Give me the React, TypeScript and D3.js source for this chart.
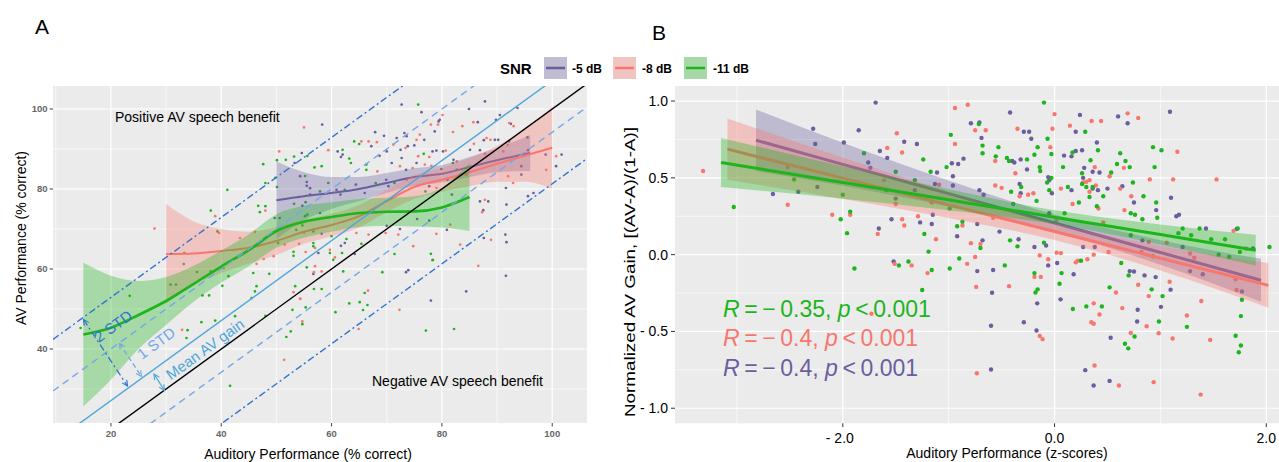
import React from "react";
import * as d3 from "d3";

// ---------------- DATA ----------------
const snrLevels = ["-5 dB", "-8 dB", "-11 dB"];
const snrColors = ["#6a5e9e", "#f8766d", "#1cb51c"];

// Panel A ticks
const aXTicks = [20, 40, 60, 80, 100];
const aXMinor = [10, 30, 50, 70, 90];
const aYTicks = [40, 60, 80, 100];
const aYMinor = [30, 50, 70, 90];

// Panel A reference lines: AV = A + offset
const meanGain = 7.1;
const stdGain = 12.9;

// Panel A points [auditory %, AV %]
const aPurple: [number, number][] = [
  [53.3, 86.5], [55.5, 81.75], [56.1, 80.2], [54.0, 78.0], [49.7, 72.75], [50.6, 72.75], [57.6, 64.0],
  [72.7, 101.1], [76.3, 99.2], [87.8, 101.9], [84.9, 100], [93.7, 100.25], [79.6, 97.3], [79.4, 96.9],
  [90.5, 98.5], [89.8, 97.3], [92.5, 96.3], [58.3, 96.1], [67.9, 94.2], [86.5, 96.7], [78.7, 94.4],
  [73.2, 94], [73.6, 93.2], [71.8, 92.75], [76.8, 92.3], [73.8, 90.7], [75.0, 90.9], [69.5, 93.3],
  [67.2, 90.7], [70.0, 89.4], [72.5, 89.8], [62.0, 88.6], [61.7, 88], [61.1, 89.4], [70.9, 86.5],
  [73.5, 84.8], [75.4, 86.5], [78.3, 89.4], [79.0, 89.6], [87.6, 92.2], [89.6, 92.3], [90.2, 92.3],
  [86.9, 89.7], [95.6, 89.7], [101.7, 88.6], [100.7, 85.7], [55.5, 80.8], [61.6, 78.6], [70.3, 80.7],
  [77.7, 80.7], [81.0, 82.3], [81.8, 78.6], [86.9, 76.9], [88.4, 76.9], [87.5, 74.7], [91.6, 80.25],
  [91.7, 76.1], [95.6, 78.2], [96.6, 79], [91.5, 68.6], [91.7, 66.7], [91.6, 58.3], [61.7, 65.8],
  [73.9, 59.7], [75.5, 72.5], [77.7, 72.1], [56.7, 58.75], [56.1, 78.6], [54.3, 83.2], [60.9, 79.8],
  [64.4, 81.1], [66.0, 79], [69.9, 82.3], [54.7, 75.8], [58.2, 68.8], [57.9, 74], [62.4, 66.5],
  [64.2, 63.75], [70.0, 70.8], [72.4, 70], [73.5, 59.2], [80.9, 69.8], [87.6, 67.75], [79.9, 85],
  [94.4, 85.7], [94.4, 83.6], [95.5, 92.9], [92.2, 91.9], [85.1, 89.8], [82.1, 87.3], [80.2, 89.4],
  [98.8, 88.6], [68.7, 88.3], [72.7, 87.75], [54.6, 89], [78.0, 52.1], [84.4, 54.4],
];
const aRed: [number, number][] = [
  [27.9, 70.1], [55.0, 95.4], [50.5, 89.4], [48.0, 74.6], [38.9, 73.2], [39.6, 69.0], [43.4, 67.75],
  [46.1, 69.3], [51.5, 66.1], [54.1, 66.3], [55.3, 64.25], [47.7, 62.5], [46.4, 61.3], [49.5, 63.2],
  [57.0, 60.7], [56.8, 59.2], [32.9, 44.8], [53.1, 54.2], [54.3, 52.6], [54.7, 46.9], [51.4, 37.3],
  [80.1, 98.5], [79.3, 96.1], [82.0, 94.25], [83.7, 95.7], [85.7, 96.7], [78.0, 96.1], [71.2, 91.1],
  [75.4, 92.3], [68.2, 91.7], [65.4, 91.9], [66.7, 91.9], [73.4, 90.25], [59.4, 89.7], [68.3, 84.4],
  [72.4, 85.7], [74.7, 85.25], [75.7, 88.2], [76.9, 86.1], [77.7, 88], [80.7, 89.6], [85.8, 91.3],
  [88.1, 92.75], [88.8, 92.3], [92.2, 96.5], [93.0, 95.7], [100.7, 88.2], [98.9, 84.8], [84.4, 83.6],
  [82.7, 86.9], [87.8, 77.3], [86.6, 60.8], [87.3, 74.2], [64.5, 69], [66.7, 68.6], [60.6, 62.9],
  [69.8, 69], [74.8, 65.7], [72.1, 68.6], [79.0, 68.8], [83.3, 66.1], [73.6, 82.3], [55.0, 69],
  [57.0, 65.25], [59.7, 64.8], [58.2, 59.4], [81.5, 71.1], [88.9, 67.3], [78.4, 62.3], [79.0, 80.25],
  [83.4, 83.6], [92.0, 83.2], [92.9, 81.5], [91.9, 91.1], [87.8, 88.8], [78.1, 85.8], [91.1, 89.4],
  [76.0, 93.6], [54.3, 52.5], [66.6, 54.6], [72.3, 49.8], [64.9, 45],
];
const aGreen: [number, number][] = [
  [47.6, 86.2], [50.1, 87.2], [51.7, 87.3], [53.2, 88.1], [55.6, 88.25], [56.9, 85.4], [49.8, 82.8],
  [48.0, 81.5], [50.1, 80.5], [55.2, 83.25], [41.1, 79.8], [46.7, 75.8], [47.0, 74.2], [48.0, 75.7],
  [38.1, 74.6], [39.3, 69.4], [53.2, 76.3], [55.3, 76.7], [55.2, 73.2], [54.7, 70.9], [53.6, 69.8],
  [56.7, 69.4], [50.3, 66.5], [53.1, 64.3], [53.1, 63.3], [56.7, 66.5], [33.3, 64.0], [33.2, 61.25],
  [35.6, 59.25], [38.1, 59.4], [55.5, 60.4], [45.8, 59.0], [48.7, 58.8], [40.4, 60.25], [41.3, 58.2],
  [14.5, 45.25], [23.4, 53.3], [30.8, 56.1], [31.8, 56.1], [36.6, 53.4], [37.8, 53.4], [36.4, 46.7],
  [38.9, 47.1], [33.9, 44.7], [33.7, 42.75], [40.2, 55.8], [42.5, 48.2], [41.6, 30.8], [45.5, 52.75],
  [46.4, 55.7], [46.1, 54.4], [48.0, 48.3], [51.8, 43.0], [52.9, 49.8], [53.4, 55.7], [54.7, 46.2],
  [55.3, 50.4], [52.6, 44.4], [56.8, 55.0], [75.7, 101.1], [64.1, 91.9], [65.0, 91.25], [62.0, 89.8],
  [63.2, 87.6], [63.5, 86.5], [58.2, 85.7], [66.3, 86.1], [66.3, 84.8], [76.7, 88.8], [57.9, 79.4],
  [62.4, 79.8], [68.0, 81.5], [77.0, 79.4], [59.7, 64], [65.4, 66.3], [62.7, 67.5], [62.1, 59.4],
  [71.4, 63.75], [69.2, 59.2], [78.0, 63.8], [78.3, 62.2], [59.4, 81.5], [71.4, 81.5], [55.6, 73.6],
  [56.7, 65.7], [60.0, 68.2], [60.3, 62.3], [61.9, 64], [82.0, 86.5], [82.7, 84.8], [58.2, 55.0],
  [60.7, 49.2], [63.2, 51.4], [65.1, 51.7], [66.0, 54.0], [66.5, 51], [65.7, 49.75], [77.1, 44.6],
  [82.2, 45],
];

// Panel A loess fits (x, fit, half-width of band)
const aPurpleFitX = [50, 55, 60, 65, 70, 75, 80, 85, 90, 96];
const aPurpleFit = [77.2, 78.2, 79, 80, 81.5, 83, 83.8, 85.5, 87.2, 89];
const aPurpleHW = [9.7, 6, 4, 3, 2.5, 2.2, 2.2, 2.5, 3, 4.5];
const aRedFitX = [30, 35, 40, 45, 50, 55, 60, 65, 70, 75, 80, 85, 90, 95, 100];
const aRedFit = [63.75, 63.9, 64.5, 65.3, 67, 69.3, 71, 73.2, 77, 80.5, 82.3, 84.2, 86.3, 88.3, 90.3];
const aRedHW = [12.5, 8, 5.5, 4, 3.5, 3, 2.8, 2.8, 2.8, 3, 3, 3.5, 4.5, 6.5, 10.3];
const aGreenFitX = [15, 20, 25, 30, 35, 40, 45, 50, 55, 60, 65, 70, 75, 80, 85];
const aGreenFit = [43.6, 45.3, 48.5, 52, 56.3, 60.6, 64.7, 69.5, 71.8, 73, 74, 74.3, 74.4, 75.4, 78];
const aGreenHW = [18, 13, 8.5, 6, 4.5, 4, 4, 4.2, 4, 3.7, 3.5, 3.5, 3.8, 5, 8.5];

// Panel B ticks
const bXTicks = [-2, 0, 2];
const bXTickLabels = ["- 2.0", "0.0", "2.0"];
const bXMinor = [-3, -1, 1];
const bYTicks = [1, 0.5, 0, -0.5, -1];
const bYTickLabels = ["1.0", "0.5", "0.0", "- 0.5", "- 1.0"];
const bYMinor = [0.75, 0.25, -0.25, -0.75];

// Panel B points [auditory z, normalized AV gain]
const bRed: [number, number][] = [
  [-3.32, 0.545], [-2.52, 0.325], [-2.52, 0.57], [-2.10, 0.26], [-1.93, 0.26], [-1.58, 0.695], [-1.49, 0.79],
  [-1.44, 0.665], [-1.09, 0.455], [-1.67, 0.135], [-1.44, 0.23], [-1.42, 0.19], [-1.29, 0.25], [-1.12, 0.10],
  [-1.20, -0.12], [-1.51, -0.06], [-1.35, -0.07], [-0.94, 0.955], [-0.94, 0.72], [-0.82, 0.976], [-0.75, 0.81],
  [-0.65, 0.81], [-0.56, 0.61], [-0.35, 0.82], [-0.37, 0.53], [0.0, 0.915], [-0.02, 0.82], [-0.04, 0.70],
  [-0.33, 0.38], [-0.25, 0.39], [-0.20, 0.40], [-0.56, 0.45], [-0.50, 0.435], [0.145, 0.84], [0.35, 0.87],
  [0.44, 0.87], [0.38, 0.57], [0.52, 0.51], [0.655, 0.565], [0.06, 0.43], [0.27, 0.47], [0.30, 0.475],
  [0.33, 0.485], [0.33, 0.41], [0.39, 0.45], [0.17, 0.33], [0.415, 0.30], [0.69, 0.92], [0.79, 0.89],
  [0.90, 0.49], [1.12, 0.49], [1.16, 0.67], [1.53, 0.49], [0.62, 0.43], [0.725, 0.38], [0.66, 0.29],
  [1.69, 0.155], [-0.87, 0.19], [-0.825, -0.06], [-0.75, -0.015], [-0.70, 0.07], [-0.79, 0.075],
  [-0.14, -0.005], [-0.06, -0.03], [0.06, 0.01], [0.02, 0.013], [-0.19, -0.145], [-0.13, -0.145],
  [0.22, -0.04], [0.20, -0.05], [0.31, -0.03], [0.37, 0.0], [0.51, 0.017], [0.82, 0.017], [0.89, 0.083],
  [1.28, 0.007], [1.32, -0.02], [1.71, -0.16], [-0.74, -0.21], [-0.43, -0.205], [0.37, -0.317],
  [0.425, -0.39], [0.347, -0.44], [0.37, -0.45], [-0.14, -0.529], [-0.113, -0.55], [0.64, -0.348],
  [0.58, -0.246], [0.79, -0.196], [0.89, -0.27], [0.87, -0.466], [0.72, -0.51], [0.983, -0.511],
  [1.115, -0.546], [1.087, -0.176], [1.25, -0.396], [1.386, -0.302], [1.47, -0.555], [0.378, -0.722],
  [0.608, -0.852], [0.936, -0.83], [1.38, -0.911], [-0.734, -0.772], [1.72, -0.23], [-1.73, -0.385],
  [-1.61, 0.485], [-1.50, 0.33], [-1.16, 0.34], [-0.58, 0.24], [0.016, 0.22], [0.46, 0.21], [1.06, 0.078],
  [1.81, 0.04],
];
const bGreen: [number, number][] = [
  [-3.03, 0.31], [-2.46, 0.49], [-2.02, 0.23], [-1.93, 0.28], [-1.96, 0.14], [-1.89, -0.09], [-2.00, 0.39],
  [-1.80, 0.66], [-1.24, 0.62], [-1.50, 0.54], [-1.17, 0.54], [-1.23, 0.135], [-1.19, 0.02], [-1.16, -0.10],
  [-0.99, -0.09], [-1.47, -0.07], [-1.38, -0.045], [-1.02, 0.57], [-0.98, 0.78], [-0.92, 0.185],
  [-0.90, -0.025], [-0.715, 0.85], [-0.68, 0.71], [-0.68, 0.66], [-0.555, 0.64], [-0.53, 0.70], [-0.45, 0.63],
  [-0.43, 0.61], [-0.26, 0.62], [-0.19, 0.65], [-0.16, 0.70], [-0.10, 0.99], [-0.066, 0.755], [-0.03, 0.655],
  [-0.14, 0.57], [-0.135, 0.545], [-0.03, 0.50], [-0.07, 0.47], [-0.315, 0.44], [-0.41, 0.41], [-0.17, 0.35],
  [-0.05, 0.42], [0.29, 0.80], [0.41, 0.68], [0.17, 0.665], [0.34, 0.615], [0.535, 0.535], [0.59, 0.59],
  [0.67, 0.61], [0.71, 0.57], [0.08, 0.57], [0.126, 0.44], [0.26, 0.53], [0.26, 0.46], [0.30, 0.44],
  [0.33, 0.375], [0.36, 0.44], [0.46, 0.38], [0.23, 0.34], [0.40, 0.315], [0.62, 0.66], [0.93, 0.70],
  [1.01, 0.68], [0.74, 0.47], [0.84, 0.38], [0.96, 0.34], [0.97, 0.24], [0.72, 0.27], [0.76, 0.26],
  [0.83, 0.23], [0.945, 0.57], [1.37, 0.17], [1.21, 0.17], [1.29, 0.126], [1.73, 0.17], [1.48, 0.10],
  [1.61, 0.10], [2.03, 0.05], [-0.87, 0.215], [-0.70, 0.043], [-0.47, -0.07], [-0.42, 0.093], [-0.35, 0.054],
  [-0.10, 0.078], [-0.19, -0.12], [0.066, -0.12], [0.25, -0.04], [0.63, -0.054], [0.70, -0.135],
  [0.93, -0.01], [1.55, 0.0], [1.65, -0.015], [1.75, 0.017], [-0.18, -0.246], [-0.16, -0.226],
  [0.173, -0.354], [0.30, -0.337], [0.447, -0.337], [0.52, -0.213], [0.917, -0.226], [1.02, -0.27],
  [0.986, -0.435], [0.756, -0.533], [0.665, -0.58], [0.696, -0.61], [1.25, -0.47], [1.71, -0.528],
  [1.76, -0.591], [1.74, -0.635], [1.76, -0.40], [1.77, -0.294], [0.047, -0.189], [-1.25, -0.23],
  [-1.59, 0.42], [-1.32, 0.485], [-0.99, 0.30], [-0.39, 0.33], [0.095, 0.27], [0.72, 0.126], [1.17, 0.14],
];
const bPurple: [number, number][] = [
  [-2.66, 0.395], [-2.42, 0.41], [-2.24, 0.44], [-2.28, 0.82], [-2.26, 0.72], [-1.99, 0.73], [-1.85, 0.81],
  [-1.76, 0.60], [-1.74, 0.565], [-1.69, 0.99], [-1.65, 0.675], [-1.58, 0.63], [-1.42, 0.735], [-1.30, 0.72],
  [-1.11, 0.535], [-1.13, 0.46], [-1.66, 0.17], [-1.54, 0.23], [-1.27, 0.21], [-1.16, 0.20], [-1.52, -0.045],
  [-0.97, 0.595], [-0.96, 0.51], [-0.96, 0.45], [-0.92, 0.12], [-0.91, 0.59], [-0.79, 0.855], [-0.71, 0.86],
  [-0.69, 0.76], [-0.86, 0.625], [-0.40, 0.61], [-0.38, 0.60], [-0.42, 0.925], [-0.29, 0.80], [-0.24, 0.80],
  [-0.22, 0.755], [-0.32, 0.62], [-0.06, 0.505], [-0.05, 0.485], [-0.26, 0.555], [-0.33, 0.46], [-0.32, 0.40],
  [-0.71, 0.42], [-0.67, 0.39], [-0.025, 0.40], [0.24, 0.91], [0.20, 0.80], [0.40, 0.73], [0.09, 0.645],
  [0.16, 0.64], [0.20, 0.675], [0.26, 0.68], [0.28, 0.565], [0.36, 0.54], [0.425, 0.535], [0.16, 0.42],
  [0.27, 0.50], [0.36, 0.43], [0.41, 0.42], [0.50, 0.43], [0.60, 0.90], [0.69, 0.855], [1.09, 0.93],
  [0.64, 0.445], [0.75, 0.34], [0.96, 0.29], [1.15, 0.25], [1.175, 0.26], [1.10, 0.37], [1.43, 0.17],
  [1.72, 0.167], [-0.73, 0.20], [-0.68, 0.093], [-0.52, 0.15], [-0.73, -0.107], [-0.58, -0.10],
  [-0.34, 0.10], [-0.19, 0.05], [-0.08, 0.06], [-0.06, -0.07], [0.025, -0.054], [0.18, -0.128],
  [0.38, 0.05], [0.71, -0.107], [0.75, -0.11], [0.85, -0.135], [0.955, -0.146], [1.21, 0.05],
  [1.28, -0.107], [1.40, -0.128], [-0.59, -0.248], [-0.164, -0.317], [0.057, -0.291], [-0.6, -0.463],
  [-0.29, -0.44], [-0.17, -0.494], [0.53, -0.541], [0.785, -0.359], [0.78, -0.435], [1.005, -0.34],
  [1.096, -0.228], [0.29, -0.752], [0.369, -0.852], [0.52, -0.822], [-0.60, -0.748], [1.77, -0.24],
  [-1.50, 0.365], [-1.32, 0.42], [-1.15, 0.26], [-0.05, 0.27], [0.27, 0.05], [0.83, 0.093], [1.875, 0.04],
];

// Panel B linear fits (x, fit, half-width of CI)
const bPurpleFitX = [-2.82, -2, -1, 0, 1, 1.95];
const bPurpleFit = [0.745, 0.588, 0.397, 0.206, 0.014, -0.167];
const bPurpleHW = [0.2, 0.14, 0.085, 0.055, 0.08, 0.14];
const bRedFitX = [-3.09, -2, -1, 0, 1, 2.02];
const bRedFit = [0.687, 0.498, 0.324, 0.151, -0.023, -0.2];
const bRedHW = [0.2, 0.135, 0.085, 0.055, 0.08, 0.145];
const bGreenFitX = [-3.15, -2, -1, 0, 1, 1.9];
const bGreenFit = [0.6, 0.47, 0.357, 0.244, 0.131, 0.029];
const bGreenHW = [0.16, 0.106, 0.068, 0.045, 0.066, 0.1];

// Correlation labels (green, red, purple order as drawn)
const corrLabels = [
  { r: "0.35", p: "0.001", color: 2 },
  { r: "0.4", p: "0.001", color: 1 },
  { r: "0.4", p: "0.001", color: 0 },
];

// ---------------- COMPONENT ----------------
const FONT = "'Liberation Sans', Arial, Helvetica, sans-serif";

export default function App() {
  const xA = d3.scaleLinear().domain([9.5, 106.3]).range([53, 587]);
  const yA = d3.scaleLinear().domain([21.5, 105.75]).range([423, 86]);
  const xB = d3.scaleLinear().domain([-3.585, 2.12]).range([675, 1279]);
  const yB = d3.scaleLinear().domain([-1.098, 1.098]).range([423.3, 86]);

  const aPts = [aPurple, aRed, aGreen];
  const bPts = [bPurple, bRed, bGreen];

  const aFits = [
    { x: aPurpleFitX, y: aPurpleFit, hw: aPurpleHW },
    { x: aRedFitX, y: aRedFit, hw: aRedHW },
    { x: aGreenFitX, y: aGreenFit, hw: aGreenHW },
  ];
  const bFits = [
    { x: bPurpleFitX, y: bPurpleFit, hw: bPurpleHW },
    { x: bRedFitX, y: bRedFit, hw: bRedHW },
    { x: bGreenFitX, y: bGreenFit, hw: bGreenHW },
  ];

  const areaA = d3
    .area<[number, number, number]>()
    .x((d) => xA(d[0]))
    .y0((d) => yA(d[1] - d[2]))
    .y1((d) => yA(d[1] + d[2]))
    .curve(d3.curveMonotoneX);
  const lineA = d3
    .line<[number, number, number]>()
    .x((d) => xA(d[0]))
    .y((d) => yA(d[1]))
    .curve(d3.curveMonotoneX);
  const areaB = d3
    .area<[number, number, number]>()
    .x((d) => xB(d[0]))
    .y0((d) => yB(d[1] - d[2]))
    .y1((d) => yB(d[1] + d[2]))
    .curve(d3.curveMonotoneX);
  const lineB = d3
    .line<[number, number, number]>()
    .x((d) => xB(d[0]))
    .y((d) => yB(d[1]))
    .curve(d3.curveMonotoneX);

  const zip = (f: { x: number[]; y: number[]; hw: number[] }) =>
    f.x.map((x, i) => [x, f.y[i], f.hw[i]] as [number, number, number]);

  const [ax0, ax1] = xA.domain();
  const refLine = (off: number) => ({
    x1: xA(ax0),
    y1: yA(ax0 + off),
    x2: xA(ax1),
    y2: yA(ax1 + off),
  });
  // screen angle of the 45° data lines (negative = rising to the right)
  const angle = (Math.atan2(yA(60) - yA(50), xA(60) - xA(50)) * 180) / Math.PI;

  const darkBlue = "#2f74d0";
  const midBlue = "#4ea6da";
  const lightBlue = "#73a7e8";

  const legendItems = [
    { x: 544, label: snrLevels[0], lx: 572 },
    { x: 613, label: snrLevels[1], lx: 642 },
    { x: 684, label: snrLevels[2], lx: 713 },
  ];

  return (
    <svg
      width={1279}
      height={462}
      style={{ position: "absolute", left: 0, top: 0, background: "#fff" }}
      fontFamily={FONT}
    >
      <defs>
        <clipPath id="clipA">
          <rect x={53} y={86} width={534} height={337} />
        </clipPath>
        <clipPath id="clipB">
          <rect x={675} y={86} width={604} height={337.3} />
        </clipPath>
        {[
          ["arDark", darkBlue],
          ["arLight", lightBlue],
          ["arMid", midBlue],
        ].map(([id, c]) => (
          <marker
            key={id}
            id={id}
            viewBox="0 0 10 10"
            refX={9}
            refY={5}
            markerWidth={7}
            markerHeight={7}
            markerUnits="userSpaceOnUse"
            orient="auto-start-reverse"
          >
            <path d="M1,1 L9,5 L1,9" fill="none" stroke={c} strokeWidth={1.6} />
          </marker>
        ))}
      </defs>

      {/* Panel labels */}
      <text x={35} y={34} fontSize={21} fill="#000">A</text>
      <text x={652} y={40} fontSize={21} fill="#000">B</text>

      {/* ===== Panel A ===== */}
      <rect x={53} y={86} width={534} height={337} fill="#ebebeb" />
      {aXMinor.map((v) => (
        <line key={"axm" + v} x1={xA(v)} x2={xA(v)} y1={86} y2={423} stroke="#fff" strokeWidth={0.6} />
      ))}
      {aYMinor.map((v) => (
        <line key={"aym" + v} x1={53} x2={587} y1={yA(v)} y2={yA(v)} stroke="#fff" strokeWidth={0.6} />
      ))}
      {aXTicks.map((v) => (
        <line key={"axM" + v} x1={xA(v)} x2={xA(v)} y1={86} y2={423} stroke="#fff" strokeWidth={1.2} />
      ))}
      {aYTicks.map((v) => (
        <line key={"ayM" + v} x1={53} x2={587} y1={yA(v)} y2={yA(v)} stroke="#fff" strokeWidth={1.2} />
      ))}

      <g clipPath="url(#clipA)">
        {aPts.map((pts, si) =>
          pts.map((d, i) => (
            <circle key={"ap" + si + "-" + i} cx={xA(d[0])} cy={yA(d[1])} r={1.35} fill={snrColors[si]} />
          ))
        )}
        {aFits.map((f, si) => (
          <g key={"af" + si}>
            <path d={areaA(zip(f)) || ""} fill={snrColors[si]} fillOpacity={0.33} />
            <path d={lineA(zip(f)) || ""} fill="none" stroke={snrColors[si]} strokeWidth={si === 2 ? 2.6 : 2} />
          </g>
        ))}
        <line {...refLine(0)} stroke="#000" strokeWidth={1.4} />
        <line {...refLine(meanGain)} stroke={midBlue} strokeWidth={1.4} />
        <line {...refLine(meanGain + stdGain)} stroke={lightBlue} strokeWidth={1.4} strokeDasharray="7,5" />
        <line {...refLine(meanGain - stdGain)} stroke={lightBlue} strokeWidth={1.4} strokeDasharray="7,5" />
        <line {...refLine(meanGain + 2 * stdGain)} stroke={darkBlue} strokeWidth={1.4} strokeDasharray="7,3,2,3" />
        <line {...refLine(meanGain - 2 * stdGain)} stroke={darkBlue} strokeWidth={1.4} strokeDasharray="7,3,2,3" />

        <line x1={83.5} y1={319.5} x2={127.5} y2={386} stroke={darkBlue} strokeWidth={1.3}
          strokeDasharray="7,3,2,3" markerStart="url(#arDark)" markerEnd="url(#arDark)" />
        <line x1={119.5} y1={343.5} x2={141.5} y2={376.5} stroke={lightBlue} strokeWidth={1.3}
          strokeDasharray="5,3" markerStart="url(#arLight)" markerEnd="url(#arLight)" />
        <line x1={154} y1={374} x2={164.5} y2={390.5} stroke={midBlue} strokeWidth={1.3}
          markerStart="url(#arMid)" markerEnd="url(#arMid)" />

        <text x={113} y={326} fontSize={15} fill={darkBlue} textAnchor="middle" dominantBaseline="central"
          transform={`rotate(${angle} 113 326)`}>2 STD</text>
        <text x={156} y={343} fontSize={15} fill={lightBlue} textAnchor="middle" dominantBaseline="central"
          transform={`rotate(${angle} 156 343)`}>1 STD</text>
        <text x={205} y={349} fontSize={15} fill={midBlue} textAnchor="middle" dominantBaseline="central"
          transform={`rotate(${angle} 205 349)`}>Mean AV gain</text>
      </g>

      <text x={115} y={122} fontSize={14} fill="#000">Positive AV speech benefit</text>
      <text x={372} y={386} fontSize={14} fill="#000">Negative AV speech benefit</text>

      {aXTicks.map((v) => (
        <g key={"axt" + v}>
          <line x1={xA(v)} x2={xA(v)} y1={423} y2={426.5} stroke="#444" strokeWidth={1} />
          <text x={xA(v)} y={437} fontSize={9.5} fontWeight="bold" fill="#666" textAnchor="middle">{v}</text>
        </g>
      ))}
      {aYTicks.map((v) => (
        <g key={"ayt" + v}>
          <line x1={49.5} x2={53} y1={yA(v)} y2={yA(v)} stroke="#444" strokeWidth={1} />
          <text x={47.5} y={yA(v) + 3.3} fontSize={9.5} fontWeight="bold" fill="#666" textAnchor="end">{v}</text>
        </g>
      ))}
      <text x={308} y={459} fontSize={14} fill="#000" textAnchor="middle">Auditory Performance (% correct)</text>
      <text x={0} y={0} fontSize={14} fill="#000" textAnchor="middle"
        transform="translate(26,238) rotate(-90)">AV Performance (% correct)</text>

      {/* Legend */}
      <text x={500} y={74} fontSize={15} fontWeight="bold" fill="#000">SNR</text>
      {legendItems.map((it, i) => (
        <g key={"lg" + i}>
          <rect x={it.x} y={57} width={23} height={22} fill="#ebebeb" />
          <rect x={it.x} y={57} width={23} height={22} fill={snrColors[i]} fillOpacity={0.33} />
          <line x1={it.x + 2} x2={it.x + 21} y1={68} y2={68} stroke={snrColors[i]} strokeWidth={2.5} />
          <text x={it.lx} y={72.5} fontSize={12} fontWeight="bold" fill="#000">{it.label}</text>
        </g>
      ))}

      {/* ===== Panel B ===== */}
      <rect x={675} y={86} width={604} height={337.3} fill="#ebebeb" />
      {bXMinor.map((v) => (
        <line key={"bxm" + v} x1={xB(v)} x2={xB(v)} y1={86} y2={423.3} stroke="#fff" strokeWidth={0.6} />
      ))}
      {bYMinor.map((v) => (
        <line key={"bym" + v} x1={675} x2={1279} y1={yB(v)} y2={yB(v)} stroke="#fff" strokeWidth={0.6} />
      ))}
      {bXTicks.map((v) => (
        <line key={"bxM" + v} x1={xB(v)} x2={xB(v)} y1={86} y2={423.3} stroke="#fff" strokeWidth={1.2} />
      ))}
      {bYTicks.map((v) => (
        <line key={"byM" + v} x1={675} x2={1279} y1={yB(v)} y2={yB(v)} stroke="#fff" strokeWidth={1.2} />
      ))}

      <g clipPath="url(#clipB)">
        {bPts.map((pts, si) =>
          pts.map((d, i) => (
            <circle key={"bp" + si + "-" + i} cx={xB(d[0])} cy={yB(d[1])} r={2.2} fill={snrColors[si]} />
          ))
        )}
        {bFits.map((f, si) => (
          <g key={"bf" + si}>
            <path d={areaB(zip(f)) || ""} fill={snrColors[si]} fillOpacity={0.35} />
            <path d={lineB(zip(f)) || ""} fill="none" stroke={snrColors[si]} strokeWidth={3} />
          </g>
        ))}
      </g>

      {corrLabels.map((c, i) => (
        <text key={"cl" + i} x={723} y={317 + i * 29.3} fontSize={23} fill={snrColors[c.color]}>
          <tspan fontStyle="italic">R</tspan>
          <tspan>{"\u2009=\u2009\u2212\u2009" + c.r + ", "}</tspan>
          <tspan fontStyle="italic">p</tspan>
          <tspan>{"\u2009<\u2009" + c.p}</tspan>
        </text>
      ))}

      {bXTicks.map((v, i) => (
        <g key={"bxt" + v}>
          <line x1={xB(v)} x2={xB(v)} y1={423.3} y2={427} stroke="#333" strokeWidth={1} />
          <text x={xB(v) - (i === 0 ? 3 : 0)} y={443} fontSize={14} fill="#000" textAnchor="middle">{bXTickLabels[i]}</text>
        </g>
      ))}
      {bYTicks.map((v, i) => (
        <g key={"byt" + v}>
          <line x1={671} x2={675} y1={yB(v)} y2={yB(v)} stroke="#333" strokeWidth={1} />
          <text x={668} y={yB(v) + 5} fontSize={14} fill="#000" textAnchor="end">{bYTickLabels[i]}</text>
        </g>
      ))}
      <text x={1007} y={458} fontSize={14} fill="#000" textAnchor="middle">Auditory Performance (z-scores)</text>
      <text x={0} y={0} fontSize={15} fill="#000" textAnchor="middle" textLength={290} lengthAdjust="spacingAndGlyphs"
        transform="translate(635,272) rotate(-90)">Normalized AV Gain, [(AV-A)/(1-A)]</text>
    </svg>
  );
}
